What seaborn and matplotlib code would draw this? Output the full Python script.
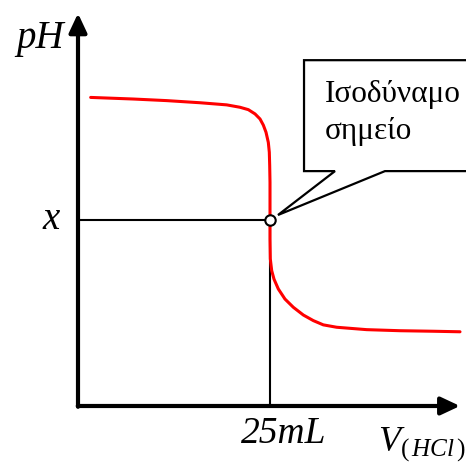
import matplotlib
matplotlib.use("Agg")
import matplotlib.pyplot as plt
from matplotlib.patches import FancyArrowPatch, Polygon
import seaborn as sns
import pandas as pd

# ---- data ----
v_hcl = [1.65, 7.20, 11.55, 15.89, 19.36, 21.09, 22.18, 23.05, 23.70, 24.13,
         24.48, 24.78, 24.91, 24.96, 25.0, 25.0, 25.0, 25.0, 25.04, 25.22,
         25.52, 26.08, 26.95, 28.04, 29.34, 30.64, 31.94, 33.68, 37.59,
         41.93, 46.27, 49.74]
ph = [11.60, 11.54, 11.48, 11.40, 11.32, 11.23, 11.14, 10.98, 10.79, 10.56,
      10.29, 9.91, 9.54, 9.04, 8.41, 7.64, 7.0, 6.28, 5.53, 5.09,
      4.77, 4.40, 4.02, 3.71, 3.42, 3.21, 3.05, 2.96, 2.87,
      2.83, 2.81, 2.79]
eq_v = 25.0
eq_ph = 7.0
callout_lines = ["Ισοδύναμο", "σημείο"]
ylabel = "pH"
eq_ph_label = "x"
eq_v_label = "25mL"
xlabel = r"$V_{(\,HCl\,)}$"

x_max = 49.74
y_max = 14.76

df = pd.DataFrame({"V": v_hcl, "pH": ph})

sns.set_theme(style="white")
plt.rcParams["font.family"] = ["Liberation Serif", "DejaVu Serif"]
plt.rcParams["text.color"] = "black"
plt.rcParams["mathtext.fontset"] = "custom"
plt.rcParams["mathtext.it"] = "Liberation Serif:italic"
plt.rcParams["mathtext.rm"] = "Liberation Serif"

fig = plt.figure(figsize=(4.66, 4.64), dpi=100)
ax = fig.add_axes([0, 0, 1, 1])
ax.set_xlim(-10.156, 50.52)
ax.set_ylim(-2.143, 15.30)
ax.axis("off")

# guide lines to the equivalence point
ax.plot([0, eq_v], [eq_ph, eq_ph], color="black", lw=1.5, zorder=2)
ax.plot([eq_v, eq_v], [0, eq_ph], color="black", lw=1.5, zorder=2)

# titration curve
sns.lineplot(data=df, x="V", y="pH", sort=False, estimator=None,
             color="red", lw=2.2, ax=ax, zorder=3)
ax.set_xlabel("")
ax.set_ylabel("")

# axes with arrows
for (x0, y0, x1, y1) in [(0, -0.03, 0, y_max), (-0.03, 0, x_max, 0)]:
    arr = FancyArrowPatch((x0, y0), (x1, y1),
                          arrowstyle="-|>,head_length=11.5,head_width=5.4",
                          mutation_scale=1, lw=3, color="black",
                          shrinkA=0, shrinkB=0, zorder=5)
    ax.add_patch(arr)

# equivalence point marker
ax.plot([eq_v], [eq_ph], marker="o", ms=7.5, mfc="white", mec="black",
        mew=1.5, zorder=6)

# callout
bx0, bx1 = eq_v + 4.43, 51.5
by0, by1 = eq_ph + 1.83, eq_ph + 6.0
tip = (eq_v + 1.04, eq_ph + 0.18)
poly = Polygon([(bx0, by0), (eq_v + 8.46, by0), tip, (eq_v + 14.97, by0),
                (bx1, by0), (bx1, by1), (bx0, by1)], closed=True,
               facecolor="white", edgecolor="black", lw=1.6, zorder=7,
               joinstyle="miter")
ax.add_patch(poly)
ax.text(eq_v + 7.16, eq_ph + 4.48, callout_lines[0], fontsize=22.5,
        ha="left", va="baseline", zorder=8)
ax.text(eq_v + 7.16, eq_ph + 3.08, callout_lines[1], fontsize=22.5,
        ha="left", va="baseline", zorder=8)

# labels
ax.text(-1.9, 13.5, ylabel, fontsize=28, style="italic", ha="right",
        va="baseline")
ax.text(-3.45, 6.69, eq_ph_label, fontsize=28, style="italic", ha="center",
        va="baseline")
ax.text(eq_v + 1.8, -1.35, eq_v_label, fontsize=27, style="italic",
        ha="center", va="baseline")
ax.text(39.0, -1.69, xlabel, fontsize=26, ha="left", va="baseline")

fig.savefig("out.png", dpi=100)
